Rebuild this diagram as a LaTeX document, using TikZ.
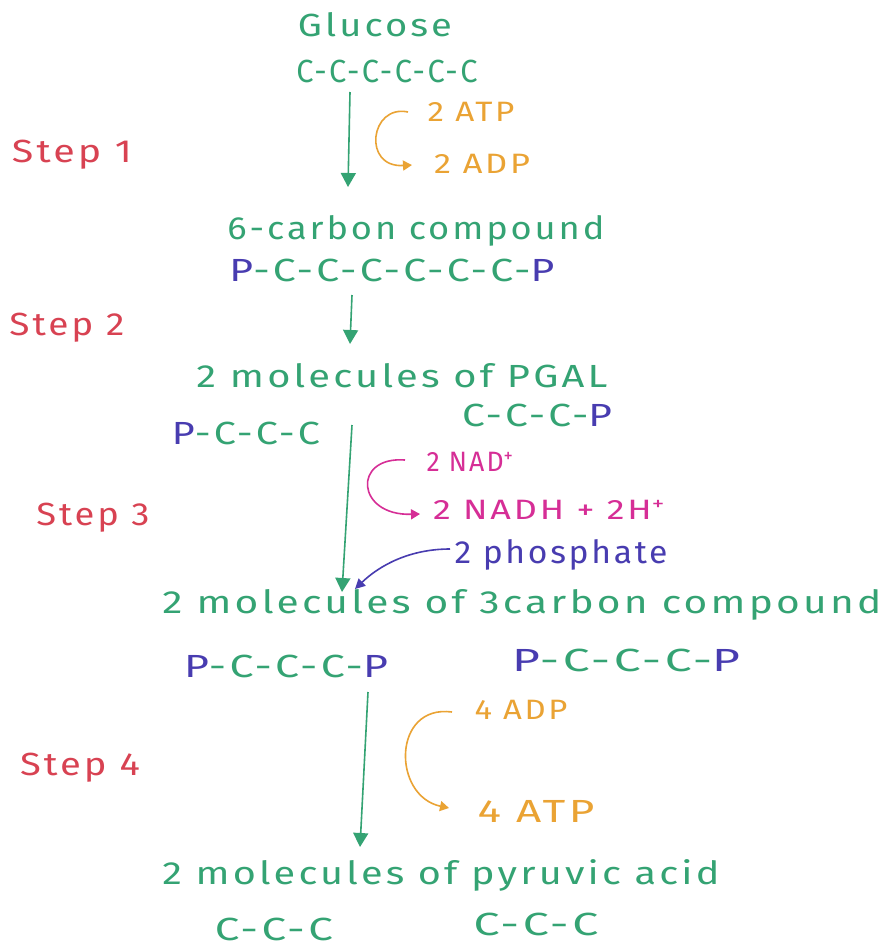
\documentclass[tikz,border=0pt]{standalone}
\usepackage{fontspec}
\setmainfont{Fira Sans}[LetterSpace=8]
\usetikzlibrary{arrows.meta}
\definecolor{grn}{RGB}{52,163,115}
\definecolor{org}{RGB}{234,163,52}
\definecolor{stepred}{RGB}{216,66,82}
\definecolor{pur}{RGB}{72,60,176}
\definecolor{mag}{RGB}{214,46,150}
\newcommand\hw[2]{\resizebox{#1pt}{\height}{#2}}
\newcommand\Pp{{\color{pur}P}}
\tikzset{
  txt/.style={inner sep=0pt, anchor=center, font=\fontsize{32}{34}\selectfont},
  small/.style={txt, font=\fontsize{28}{30}\selectfont},
  gtxt/.style={txt, text=grn},
  otxt/.style={small, text=org},
  stxt/.style={txt, text=stepred},
  ptxt/.style={txt, text=pur},
  mtxt/.style={small, text=mag},
  mainarrow/.style={draw=grn, line width=1.6pt, -{Triangle[length=14pt,width=15pt,fill=grn]}},
  oarrow/.style={draw=org, line width=1.6pt, -{Triangle[length=9pt,width=10pt,fill=org]}},
  marrow/.style={draw=mag, line width=1.6pt, -{Triangle[length=9pt,width=10pt,fill=mag]}},
  parrow/.style={draw=pur, line width=1.6pt, -{Triangle[length=10pt,width=10pt,fill=pur]}},
}
\begin{document}
\begin{tikzpicture}[x=1pt,y=-1pt]
\useasboundingbox[fill=white] (0,0) rectangle (885,948);
% texts
\node[gtxt] (glc) at (375,25) {\hw{154}{Glucose}};
\node[gtxt] (c1) at (387,71) {\hw{181}{C-C-C-C-C-C}};
\node[otxt] (atp1) at (471,112) {\hw{87}{2 ATP}};
\node[otxt] (adp1) at (482,164) {\hw{96}{2 ADP}};
\node[stxt] (s1) at (72,155) {\hw{120}{Step 1}};
\node[gtxt] (six) at (416,231) {\hw{377}{6-carbon compound}};
\node[gtxt] (c2) at (392,270) {\hw{325}{\Pp-C-C-C-C-C-C-\Pp}};
\node[stxt] (s2) at (67,328) {\hw{115}{Step 2}};
\node[gtxt] (pgal) at (402,376) {\hw{411}{2 molecules of PGAL}};
\node[gtxt] (c3a) at (246,433) {\hw{148}{\Pp-C-C-C}};
\node[gtxt] (c3b) at (537,415) {\hw{150}{C-C-C-\Pp}};
\node[mtxt] (nad) at (470,462) {\hw{87}{2 NAD\textsuperscript{+}}};
\node[mtxt] (nadh) at (549,510) {\hw{232}{2 NADH + 2H\textsuperscript{+}}};
\node[stxt] (s3) at (93,518) {\hw{113}{Step 3}};
\node[ptxt] (phos) at (561,555) {\hw{213}{2 phosphate}};
\node[gtxt] (three) at (522,605) {\hw{719}{2 molecules of 3carbon compound}};
\node[gtxt] (c4a) at (286,666) {\hw{204}{\Pp-C-C-C-\Pp}};
\node[gtxt] (c4b) at (626,660) {\hw{228}{\Pp-C-C-C-\Pp}};
\node[otxt] (adp4) at (521,710) {\hw{93}{4 ADP}};
\node[otxt, font=\fontsize{32}{34}\selectfont] (atp4) at (536,811) {\hw{117}{4 ATP}};
\node[stxt] (s4) at (80,768) {\hw{120}{Step 4}};
\node[gtxt] (pyr) at (441,875) {\hw{557}{2 molecules of pyruvic acid}};
\node[gtxt] (c5a) at (274,929) {\hw{118}{C-C-C}};
\node[gtxt] (c5b) at (536,924) {\hw{125}{C-C-C}};
% arrow end points
\coordinate (a1s) at (350,92);  \coordinate (a1e) at (348,187);
\coordinate (a2s) at (352,295); \coordinate (a2e) at (350,344);
\coordinate (a3s) at (352,425); \coordinate (a3e) at (342,592);
\coordinate (a4s) at (368,692); \coordinate (a4e) at (360,847);
\coordinate (o1s) at (408,112); \coordinate (o1e) at (412,165);
\coordinate (m1s) at (405,460); \coordinate (m1e) at (420,514);
\coordinate (p1s) at (450,549); \coordinate (p1e) at (355,589);
\coordinate (o4s) at (452,712); \coordinate (o4e) at (449,808);
% main arrows
\draw[mainarrow] (a1s) -- (a1e);
\draw[mainarrow] (a2s) -- (a2e);
\draw[mainarrow] (a3s) -- (a3e);
\draw[mainarrow] (a4s) -- (a4e);
% side arrows
\draw[oarrow] (o1s) .. controls (370,104) and (362,168) .. (o1e);
\draw[marrow] (m1s) .. controls (352,456) and (356,516) .. (m1e);
\draw[parrow] (p1s) .. controls (410,549) and (380,565) .. (p1e);
\draw[oarrow] (o4s) .. controls (392,704) and (392,796) .. (o4e);
\end{tikzpicture}
\end{document}
